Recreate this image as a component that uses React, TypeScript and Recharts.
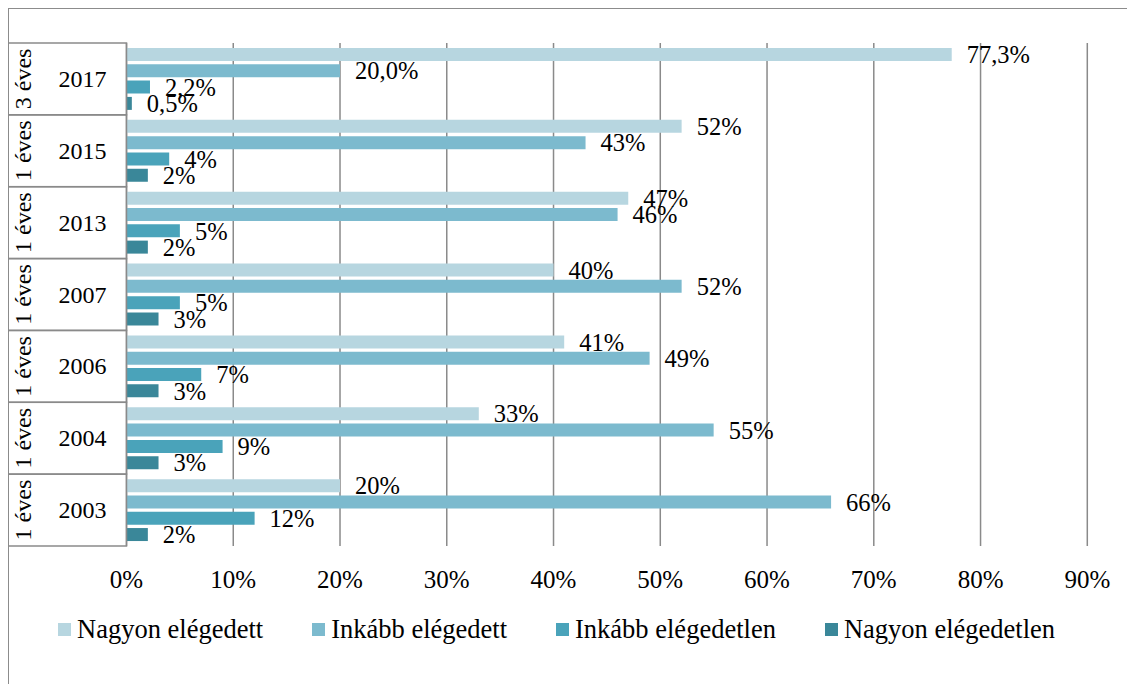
import React from 'react';
import { BarChart, Bar, XAxis, YAxis, CartesianGrid, Legend, LabelList } from 'recharts';

const years = ['2017', '2015', '2013', '2007', '2006', '2004', '2003'];
const periods = ['3 éves', '1 éves', '1 éves', '1 éves', '1 éves', '1 éves', '1 éves'];
const labelDecimals = [1, 0, 0, 0, 0, 0, 0];
const nagyonElegedett = [77.3, 52, 47, 40, 41, 33, 20];
const inkabbElegedett = [20.0, 43, 46, 52, 49, 55, 66];
const inkabbElegedetlen = [2.2, 4, 5, 5, 7, 9, 12];
const nagyonElegedetlen = [0.5, 2, 2, 3, 3, 3, 2];
const xTicks = [0, 10, 20, 30, 40, 50, 60, 70, 80, 90];

const seriesNames = ['Nagyon elégedett', 'Inkább elégedett', 'Inkább elégedetlen', 'Nagyon elégedetlen'];
const seriesColors = ['#B7D6E0', '#7CBACE', '#4AA3BA', '#3A8799'];

const FONT = '"Liberation Serif", "Times New Roman", serif';
const YAXIS_W = 118.5;

const fmt = (v: number, d: number) => v.toFixed(d).replace('.', ',') + '%';

const data = years.map((y, i) => ({
  year: y,
  period: periods[i],
  s1: nagyonElegedett[i],
  s2: inkabbElegedett[i],
  s3: inkabbElegedetlen[i],
  s4: nagyonElegedetlen[i],
  l1: fmt(nagyonElegedett[i], labelDecimals[i]),
  l2: fmt(inkabbElegedett[i], labelDecimals[i]),
  l3: fmt(inkabbElegedetlen[i], labelDecimals[i]),
  l4: fmt(nagyonElegedetlen[i], labelDecimals[i]),
}));

const YTick = (props: any) => {
  const { x, y, payload, index } = props;
  const half = payload && payload.offset ? payload.offset : 503 / 14;
  const left = x - YAXIS_W;
  const period = data[index] ? data[index].period : '';
  return (
    <g>
      <rect x={left} y={y - half} width={YAXIS_W} height={half * 2} fill="none" stroke="#8a8a8a" strokeWidth={1.5} />
      <text
        x={left + 15}
        y={y}
        transform={`rotate(-90 ${left + 15} ${y})`}
        textAnchor="middle"
        dominantBaseline="central"
        fontFamily={FONT}
        fontSize={24}
        fill="#000"
      >
        {period}
      </text>
      <text x={left + 74.5} y={y} textAnchor="middle" dominantBaseline="central" fontFamily={FONT} fontSize={24} fill="#000">
        {payload.value}
      </text>
    </g>
  );
};

const LegendContent = () => (
  <div style={{ display: 'flex', alignItems: 'center', fontFamily: FONT, fontSize: 26.5, color: '#000', whiteSpace: 'nowrap' }}>
    {seriesNames.map((n, i) => (
      <div key={n} style={{ display: 'flex', alignItems: 'center', marginRight: i < 3 ? 49 : 0 }}>
        <span style={{ display: 'inline-block', width: 13, height: 13, background: seriesColors[i], marginRight: 6 }} />
        <span style={{ lineHeight: 'normal' }}>{n}</span>
      </div>
    ))}
  </div>
);

export default function App() {
  return (
    <div style={{ position: 'relative', width: 1127, height: 676 }}>
      <div
        style={{
          position: 'absolute',
          left: -1,
          top: -1,
          width: 1126,
          height: 678,
          borderTop: '2px solid #8c8c8c',
          borderLeft: '2px solid #8c8c8c',
          boxSizing: 'border-box',
        }}
      />
      <BarChart
        width={1127}
        height={676}
        data={data}
        layout="vertical"
        margin={{ top: 35, right: 47.7, bottom: 78, left: 0 }}
        barCategoryGap={5}
        barGap={3.3}
        style={{ position: 'absolute', left: 0, top: 0 }}
      >
        <CartesianGrid horizontal={false} vertical={true} stroke="#8a8a8a" strokeWidth={1.5} />
        <XAxis
          type="number"
          domain={[0, 90]}
          ticks={xTicks}
          tickFormatter={(v: number) => `${v}%`}
          axisLine={false}
          tickLine={false}
          tickSize={0}
          tickMargin={24}
          height={60}
          interval={0}
          tick={{ fontFamily: FONT, fontSize: 25, fill: '#000' }}
        />
        <YAxis
          type="category"
          dataKey="year"
          width={YAXIS_W}
          axisLine={false}
          tickLine={false}
          tickSize={0}
          tickMargin={0}
          interval={0}
          tick={<YTick />}
        />
        <Legend
          layout="horizontal"
          verticalAlign="middle"
          align="center"
          content={<LegendContent />}
          wrapperStyle={{ top: 606, left: 50, width: 'auto' }}
        />
        {['s1', 's2', 's3', 's4'].map((k, i) => (
          <Bar key={k} dataKey={k} name={seriesNames[i]} fill={seriesColors[i]} isAnimationActive={false}>
            <LabelList
              dataKey={`l${i + 1}`}
              position="right"
              offset={15}
              style={{ fontFamily: FONT, fontSize: 24.5, fill: '#000' }}
            />
          </Bar>
        ))}
      </BarChart>
    </div>
  );
}
